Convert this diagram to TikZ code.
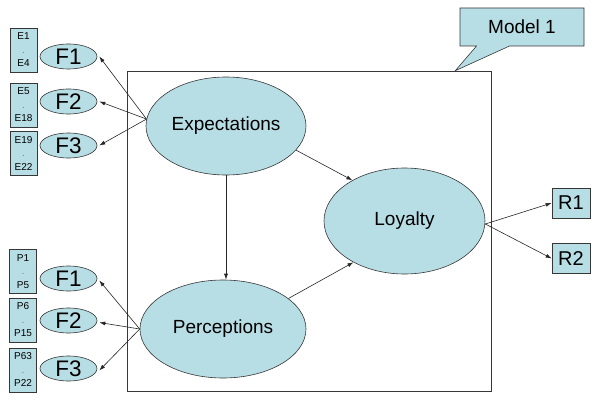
\documentclass[tikz,border=0pt]{standalone}
\usepackage{fontspec}
\setmainfont{Liberation Sans}
\usepackage{xcolor}
\usepackage{tikz}
\usetikzlibrary{shapes.geometric,shapes.callouts,positioning,arrows.meta}
\definecolor{fillblue}{RGB}{183,221,229}
\definecolor{edgegray}{RGB}{55,55,55}

\begin{document}
\begin{tikzpicture}[x=1pt,y=-1pt,>={Latex[length=6pt,width=4pt]},line width=0.6pt,
	latent/.style={ellipse,draw=edgegray,fill=fillblue,inner sep=0pt,font=\fontsize{19}{22}\selectfont},
	factor/.style={ellipse,draw=edgegray,fill=fillblue,inner sep=0pt,minimum width=57pt,minimum height=25pt,font=\fontsize{22.5}{25}\selectfont},
	items/.style={rectangle,draw=edgegray,fill=fillblue,inner sep=0pt,minimum width=27pt,minimum height=44pt,align=center,font=\fontsize{10}{13.5}\selectfont},
	indicator/.style={rectangle,draw=edgegray,fill=fillblue,inner sep=0pt,minimum width=38pt,minimum height=30pt,font=\fontsize{20}{22}\selectfont},
	link/.style={->,draw=black!85}]
			\useasboundingbox (0,0) rectangle (600,404);
			\node[draw=edgegray,inner sep=0pt,minimum width=364pt,minimum height=320pt] (frame) at (309,231) {};
			\node[rectangle callout,draw=edgegray,fill=fillblue,minimum width=124pt,minimum height=38pt,
				callout absolute pointer={([xshift=-36pt]frame.north east)},callout pointer width=33pt,
				font=\fontsize{19}{22}\selectfont] (model) at (522,27) {Model 1};

			\node[latent,minimum width=160pt,minimum height=98pt] (exp) at (226,126) {Expectations};
			\node[latent,minimum width=166pt,minimum height=98pt] (per) at (223,329) {Perceptions};
			\node[latent,minimum width=161pt,minimum height=106pt] (loy) at (404.5,221) {Loyalty};

			\node[items] (e1) at (23.5,50) {E1\\[0pt]{\color{gray}.}\\E4};
			\node[items] (e2) at (23.5,105) {E5\\[0pt]{\color{gray}.}\\E18};
			\node[items] (e3) at (23.5,153.5) {E19\\[0pt]{\color{gray}.}\\E22};
			\node[items] (p1) at (23,271.5) {P1\\[0pt]{\color{gray}.}\\P5};
			\node[items] (p2) at (23,320) {P6\\[0pt]{\color{gray}.}\\P15};
			\node[items] (p3) at (23,370) {P63\\[0pt]{\color{gray}.}\\P22};

			\node[factor] (ef1) at (68.5,56.5) {F1};
			\node[factor] (ef2) at (68.5,101.5) {F2};
			\node[factor] (ef3) at (68.5,145.5) {F3};
			\node[factor] (pf1) at (68.5,278.5) {F1};
			\node[factor] (pf2) at (68.5,320.5) {F2};
			\node[factor] (pf3) at (68.5,368.5) {F3};

			\node[indicator] (r1) at (571,203) {R1};
			\node[indicator] (r2) at (571,258.5) {R2};

			\draw[link] (exp.175) -- ([xshift=2pt]ef1.east);
			\draw[link] (exp.175) -- ([xshift=2pt]ef2.east);
			\draw[link] (exp.175) -- ([xshift=2pt]ef3.east);
			\draw[link] (per.west) -- ([xshift=2pt,yshift=-2pt]pf1.east);
			\draw[link] (per.west) -- ([xshift=2pt,yshift=-2pt]pf2.east);
			\draw[link] (per.west) -- ([xshift=2pt,yshift=-2pt]pf3.east);
			\draw[link] (exp.south) -- (exp.south |- per.north);
			\draw[link] (exp.-19) -- (loy.142);
			\draw[link] (per.25) -- (loy.219);
			\draw[link] ([yshift=-3pt]loy.east) -- (r1.west);
			\draw[link] ([yshift=-3pt]loy.east) -- (r2.west);
\end{tikzpicture}
\end{document}
